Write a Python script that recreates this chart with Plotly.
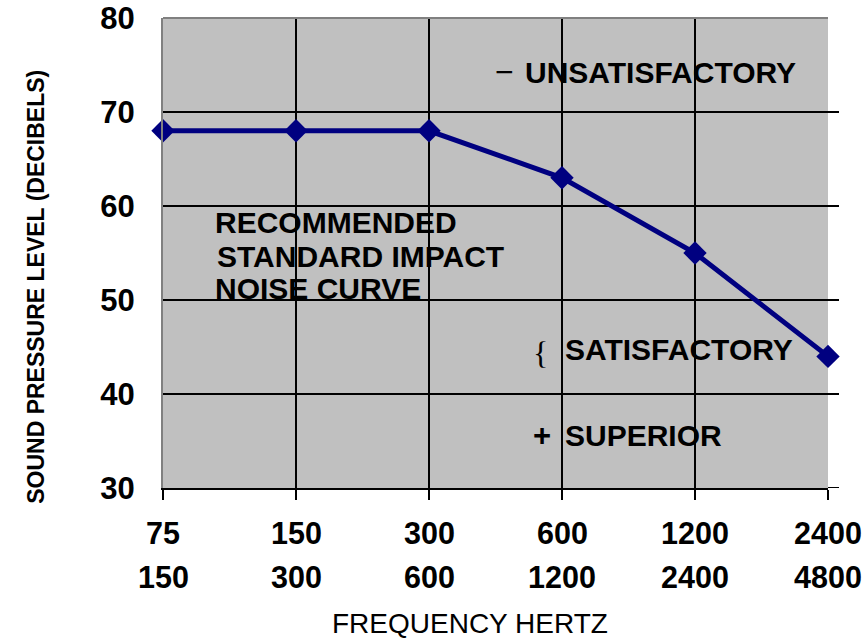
import plotly.graph_objects as go

# ---- data ----
freq_low = ["75", "150", "300", "600", "1200", "2400"]
freq_high = ["150", "300", "600", "1200", "2400", "4800"]
spl_db = [68, 68, 68, 63, 55, 44]
y_ticks = [30, 40, 50, 60, 70, 80]

FONT = "Arial, 'Liberation Sans', sans-serif"
x_idx = list(range(len(freq_low)))

fig = go.Figure()
fig.add_trace(go.Scatter(
    x=x_idx, y=spl_db, mode="lines+markers",
    line=dict(color="#000080", width=5),
    marker=dict(symbol="diamond", size=18, color="#000080"),
    cliponaxis=False, showlegend=False, hoverinfo="skip",
))

fig.update_layout(
    width=866, height=640,
    margin=dict(l=163, r=38, t=18, b=152, autoexpand=False),
    paper_bgcolor="white", plot_bgcolor="#C0C0C0",
    font=dict(family=FONT, color="black"),
    showlegend=False,
)
fig.update_xaxes(
    range=[0, len(freq_low) - 1], tickvals=x_idx, showticklabels=False,
    showgrid=True, gridcolor="black", gridwidth=1.5,
    ticks="outside", ticklen=10, tickwidth=2, tickcolor="black",
    showline=True, linecolor="black", linewidth=2, zeroline=False,
    automargin=False,
)
fig.update_yaxes(
    range=[30, 80], tickvals=y_ticks, ticktext=[str(v) for v in y_ticks],
    tickfont=dict(size=31, family=FONT, weight="bold"),
    showgrid=True, gridcolor="black", gridwidth=1.5,
    ticks="", ticklabelstandoff=20,
    showline=True, linecolor="#808080", linewidth=2, zeroline=False,
    automargin=False,
)

shapes = [dict(type="line", xref="paper", yref="paper", x0=0, x1=1, y0=1, y1=1,
               line=dict(color="#808080", width=2))]
for v in y_ticks[:-1]:
    shapes.append(dict(type="line", xref="paper", yref="y", x0=1, x1=1 + 11 / 665,
                       y0=v, y1=v, line=dict(color="black", width=2)))
fig.update_layout(shapes=shapes)

ann = []
# category labels (two rows)
for i, (a, b) in enumerate(zip(freq_low, freq_high)):
    ann.append(dict(x=i, y=0, xref="x", yref="paper", text=f"<b>{a}</b>", showarrow=False,
                    xanchor="center", yanchor="middle", yshift=-45,
                    font=dict(size=30.5, family=FONT)))
    ann.append(dict(x=i, y=0, xref="x", yref="paper", text=f"<b>{b}</b>", showarrow=False,
                    xanchor="center", yanchor="middle", yshift=-89,
                    font=dict(size=30.5, family=FONT)))

ann.append(dict(x=0.462, y=0, xref="paper", yref="paper", text="FREQUENCY HERTZ",
                showarrow=False, xanchor="center", yanchor="middle", yshift=-135,
                font=dict(size=28, family=FONT)))
ann.append(dict(x=-0.191, y=0.428, xref="paper", yref="paper",
                text="<b>SOUND PRESSURE LEVEL (DECIBELS)</b>", textangle=-90,
                showarrow=False, xanchor="center", yanchor="middle",
                font=dict(size=23, family=FONT)))

def txt(x, y, t, size=30, anchor="left", fam=FONT):
    ann.append(dict(x=x, y=y, xref="x", yref="y", text=t, showarrow=False,
                    xanchor=anchor, yanchor="middle", font=dict(size=size, family=fam)))

txt(0.376, 58.2, "<b>RECOMMENDED</b>")
txt(0.391, 54.6, "<b>STANDARD IMPACT</b>")
txt(0.376, 51.2, "<b>NOISE CURVE</b>")
txt(2.571, 74.3, "−", size=32, anchor="center")
txt(2.707, 74.15, "<b>UNSATISFACTORY</b>")
txt(2.842, 44.4, "{", size=32, anchor="center", fam="'Liberation Serif', 'Times New Roman', serif")
txt(3.008, 44.7, "<b>SATISFACTORY</b>")
txt(2.85, 35.6, "<b>+</b>", size=31, anchor="center")
txt(3.008, 35.6, "<b>SUPERIOR</b>")

fig.update_layout(annotations=ann)
fig.write_html("out.html", config={"displayModeBar": False},
               post_script="document.body.style.margin='0';")
